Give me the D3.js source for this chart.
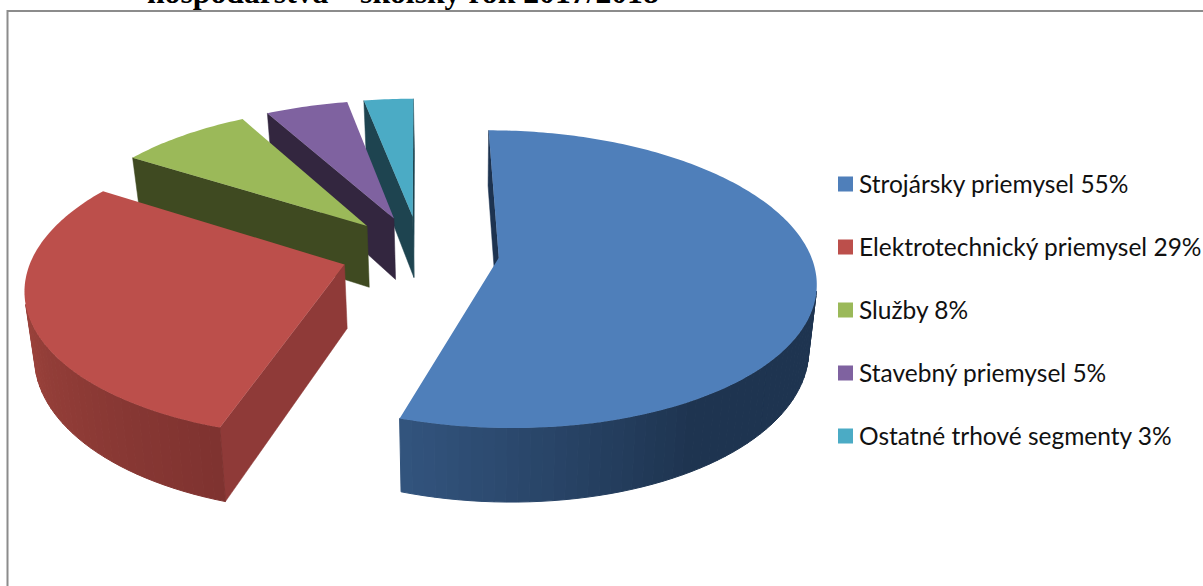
<!DOCTYPE html>
<html lang="sk">
<head>
<meta charset="UTF-8">
<title>Trhové segmenty</title>
<script src="https://d3js.org/d3.v7.min.js"></script>
<style>
    html, body { margin: 0; padding: 0; background: #fff; overflow: hidden; }
    svg { display: block; }
    .title { font-family: "Liberation Serif", serif; font-weight: bold; font-size: 31.7px; fill: #000; }
    .legend-label { font-family: Lato, sans-serif; font-size: 24.5px; fill: #111; }
</style>
</head>
<body>
<svg id="chart" width="1203" height="586"></svg>
<script>
const titleText = "hospodárstva – školský rok 2017/2018";
const categories = ["Strojársky priemysel", "Elektrotechnický priemysel", "Služby", "Stavebný priemysel", "Ostatné trhové segmenty"];
const values = [55, 29, 8, 5, 3];
const topColors = ["#4f7fba", "#bc4f4b", "#9bb959", "#7f62a0", "#4babc5"];
const radialColors = ["#1d3350", "#8f3a38", "#3f4a21", "#33263f", "#1e4450"];
// outer wall shade along each slice: start, three quarters, end
const rimShades = [
    ["#1e3450", "#1e3450", "#33557f"],
    ["#7f3330", "#a5473f", "#a8483f"],
    ["#3f4a21", "#3f4a21", "#3f4a21"],
    ["#33263f", "#33263f", "#33263f"],
    ["#1e4450", "#1e4450", "#1e4450"]
];

const svg = d3.select("#chart");

// frame
svg.append("path")
    .attr("d", "M1203,11H7.5V586")
    .attr("fill", "none")
    .attr("stroke", "#8c8c8c")
    .attr("stroke-width", 2);

svg.append("text")
    .attr("class", "title")
    .attr("x", 147)
    .attr("y", 3)
    .text(titleText);

// pie lying on a plane seen in perspective
const vx = 418, horizon = -756, cx = 420, cy = 252;
const rx = 311, k = 0.143, explode = 0.255, wallHeight = 63;
// the walls lean inwards towards the bottom
const nadirX = 464, lean = 0.0227;

function project(X, Y) {
    const s = 1 / (1 + k * Y);
    return { x: vx + (cx - vx + rx * X) * s, y: horizon + (cy - horizon) * s, s: s };
}

const arcs = d3.pie().sort(null)(values);

function slicePoint(d, angle, r) {
    const mid = (d.startAngle + d.endAngle) / 2;
    const X = explode * Math.sin(mid) + r * Math.sin(angle);
    const Y = explode * Math.cos(mid) + r * Math.cos(angle);
    return project(X, Y);
}

const line = d3.line().x(p => p.x).y(p => p.y);
const down = p => ({ x: p.x - (p.x - nadirX) * lean, y: p.y + wallHeight * p.s });
const area = pts => d3.polygonArea(pts.map(p => [p.x, p.y]));

function drawWall(g, pts, color, sw) {
    g.append("path")
        .attr("d", line(pts) + "Z")
        .attr("fill", color)
        .attr("stroke", color)
        .attr("stroke-width", sw);
}

// back slices first, red sits over green, blue last
const order = [4, 3, 2, 1, 0];
order.forEach(i => {
    const d = arcs[i];
    const g = svg.append("g");
    const apex = slicePoint(d, 0, 0);
    const a = slicePoint(d, d.startAngle, 1);
    const b = slicePoint(d, d.endAngle, 1);

    // radial walls, only the ones turned to the viewer
    const startWall = [apex, a, down(a), down(apex)];
    if (area(startWall) > 0) drawWall(g, startWall, radialColors[i], 0.5);
    const endWall = [b, apex, down(apex), down(b)];
    if (area(endWall) > 0) drawWall(g, endWall, radialColors[i], 0.5);

    // outer wall in small bands
    const steps = Math.max(4, Math.round((d.endAngle - d.startAngle) * 30));
    const angle = d3.scaleLinear().domain([0, steps]).range([d.startAngle, d.endAngle]);
    const shade = d3.scaleLinear().domain([0, steps * 0.75, steps]).range(rimShades[i]);
    d3.range(steps).forEach(j => {
        const p = slicePoint(d, angle(j), 1);
        const q = slicePoint(d, angle(j + 1), 1);
        const quad = [p, q, down(q), down(p)];
        if (area(quad) > 0) drawWall(g, quad, shade(j), 1);
    });

    // top face
    const rim = d3.range(steps * 2 + 1).map(j => slicePoint(d, d.startAngle + (d.endAngle - d.startAngle) * j / (steps * 2), 1));
    g.append("path")
        .attr("d", line([apex].concat(rim)) + "Z")
        .attr("fill", topColors[i]);
});

// legend
const legendY = d3.scalePoint().domain(categories).range([184, 436]);
const legend = svg.selectAll(".legend-row")
    .data(categories)
    .enter()
    .append("g")
    .attr("class", "legend-row")
    .attr("transform", c => `translate(838,${legendY(c)})`);

legend.append("rect")
    .attr("y", -7.5)
    .attr("width", 15)
    .attr("height", 15)
    .attr("fill", (c, i) => topColors[i]);

legend.append("text")
    .attr("class", "legend-label")
    .attr("x", 21)
    .attr("y", 9)
    .text((c, i) => `${c} ${values[i]}%`);
</script>
</body>
</html>
